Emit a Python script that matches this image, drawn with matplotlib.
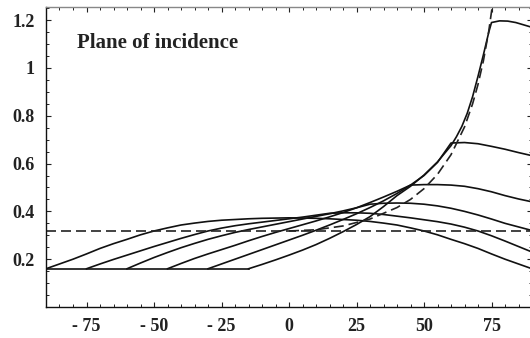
import matplotlib
matplotlib.use("Agg")
import matplotlib.pyplot as plt
from matplotlib.ticker import MultipleLocator

# flat level on the left and Lambertian reference (dashed)
base_x = [-90, -15]
base_y = [0.16, 0.16]
lamb_x = [-90, 90]
lamb_y = [0.318, 0.318]
dash_x = [0, 10, 20, 30, 40, 45, 50, 55, 60, 65, 68, 70, 72, 74, 76, 78]
dash_y = [0.318, 0.323, 0.339, 0.368, 0.416, 0.45, 0.495, 0.555, 0.637, 0.753,
          0.85, 0.931, 1.03, 1.155, 1.316, 1.53]

# incidence 0
c0_x = [-90, -85, -80, -75, -70, -65, -60, -55, -50, -45, -40, -35, -30, -25, -20, -15, -10, -5, 0,
        5, 10, 15, 20, 25, 30, 35, 40, 45, 50, 55, 60, 65, 70, 75, 80, 85, 90]
c0_y = [0.160, 0.180, 0.200, 0.222, 0.245, 0.265, 0.283, 0.302, 0.318, 0.331, 0.343, 0.351, 0.358,
        0.363, 0.366, 0.369, 0.371, 0.372, 0.373,
        0.372, 0.371, 0.369, 0.366, 0.363, 0.358, 0.351, 0.343, 0.331, 0.318, 0.302, 0.283, 0.265,
        0.245, 0.222, 0.200, 0.180, 0.160]

# incidence 15
c15_x = [-75, -70, -65, -60, -55, -50, -45, -40, -35, -30, -25, -20, -15, -10, -5, 0, 5, 10, 15,
         20, 25, 30, 35, 40, 45, 50, 55, 60, 65, 70, 75, 80, 85, 90]
c15_y = [0.16, 0.180, 0.199, 0.217, 0.235, 0.253, 0.270, 0.287, 0.303, 0.318, 0.330, 0.340, 0.348,
         0.355, 0.362, 0.369, 0.376, 0.384, 0.392,
         0.394, 0.394, 0.392, 0.387, 0.380, 0.373, 0.365, 0.357, 0.347, 0.334, 0.318, 0.298, 0.276,
         0.253, 0.230]

# incidence 30
c30_x = [-60, -55, -50, -45, -40, -35, -30, -25, -20, -15, -10, -5, 0, 5, 10, 15, 20, 25, 30,
         35, 40, 45, 50, 55, 60, 65, 70, 75, 80, 85, 90]
c30_y = [0.16, 0.184, 0.207, 0.228, 0.248, 0.266, 0.283, 0.298, 0.312, 0.324, 0.335, 0.346, 0.357,
         0.368, 0.379, 0.390, 0.402, 0.415, 0.430,
         0.434, 0.435, 0.434, 0.430, 0.423, 0.413, 0.400, 0.385, 0.368, 0.350, 0.335, 0.320]

# incidence 45
c45_x = [-45, -40, -35, -30, -25, -20, -15, -10, -5, 0, 5, 10, 15, 20, 25, 30, 35, 40, 45,
         50, 55, 60, 65, 70, 75, 80, 85, 90]
c45_y = [0.16, 0.182, 0.203, 0.222, 0.240, 0.258, 0.277, 0.295, 0.312, 0.328, 0.344, 0.360, 0.377,
         0.395, 0.415, 0.437, 0.460, 0.484, 0.510,
         0.512, 0.512, 0.510, 0.505, 0.495, 0.482, 0.466, 0.452, 0.440]

# incidence 60
c60_x = [-30, -25, -20, -15, -10, -5, 0, 5, 10, 15, 20, 25, 30, 35, 40, 45, 50, 55, 60,
         65, 70, 75, 80, 85, 90]
c60_y = [0.16, 0.180, 0.200, 0.220, 0.240, 0.260, 0.280, 0.300, 0.321, 0.343, 0.366, 0.390, 0.416,
         0.444, 0.475, 0.510, 0.550, 0.605, 0.686,
         0.688, 0.683, 0.672, 0.660, 0.646, 0.633]

# incidence 75
c75_x = [-15, -10, -5, 0, 5, 10, 15, 20, 25, 30, 35, 40, 45, 50, 55, 60, 62, 64, 66, 68, 70, 72,
         74, 75, 78, 81, 84, 87, 90]
c75_y = [0.16, 0.178, 0.197, 0.217, 0.238, 0.261, 0.287, 0.315, 0.345, 0.378, 0.420, 0.466, 0.505,
         0.552, 0.607, 0.675, 0.712, 0.755, 0.810, 0.880, 0.965, 1.055, 1.150, 1.190,
         1.197, 1.196, 1.190, 1.180, 1.170]

curves = [(c0_x, c0_y), (c15_x, c15_y), (c30_x, c30_y),
          (c45_x, c45_y), (c60_x, c60_y), (c75_x, c75_y)]

xticks = [-75, -50, -25, 0, 25, 50, 75]
xlabels = ["- 75", "- 50", "- 25", "0", "25", "50", "75"]
yticks = [0.2, 0.4, 0.6, 0.8, 1.0, 1.2]
ylabels = ["0.2", "0.4", "0.6", "0.8", "1", "1.2"]

plt.rcParams['font.family'] = ['Liberation Serif', 'DejaVu Serif']
plt.rcParams['font.weight'] = 'bold'

fig = plt.figure(figsize=(5.30, 3.38), dpi=100)
ax = fig.add_axes([46 / 530, 31 / 338, 486 / 530, 300 / 338])

ax.plot(base_x, base_y, color="#111111", lw=1.2)
for cx, cy in curves:
    ax.plot(cx, cy, color="#111111", lw=1.2)
ax.plot(lamb_x, lamb_y, color="#222222", lw=1.2, dashes=(6, 3))
ax.plot(dash_x, dash_y, color="#222222", lw=1.2, dashes=(6, 3))

ax.set_xlim(-90, 90)
ax.set_ylim(0, 1.255)

ax.set_xticks(xticks)
ax.set_xticklabels(xlabels)
ax.set_yticks(yticks)
ax.set_yticklabels(ylabels)
ax.xaxis.set_minor_locator(MultipleLocator(5))
ax.yaxis.set_minor_locator(MultipleLocator(0.05))
ax.tick_params(which="both", direction="in", top=True, right=True, labelsize=13, colors="#222222")
ax.tick_params(which="major", length=3.5, width=0.8)
ax.tick_params(which="minor", length=2, width=0.7)
ax.tick_params(axis="x", pad=8)
ax.tick_params(axis="y", pad=8)
for lab in ax.get_xticklabels() + ax.get_yticklabels():
    lab.set_fontweight("bold")

ax.spines["left"].set_color("#111111")
ax.spines["bottom"].set_color("#111111")
ax.spines["top"].set_color("#888888")
ax.spines["right"].set_color("#888888")
for s in ax.spines.values():
    s.set_linewidth(1.0)

ax.text(-78.5, 1.105, "Plane of incidence", fontsize=15, fontweight="bold", va="center", ha="left",
        color="#222222")

fig.savefig("out.png", dpi=100)
